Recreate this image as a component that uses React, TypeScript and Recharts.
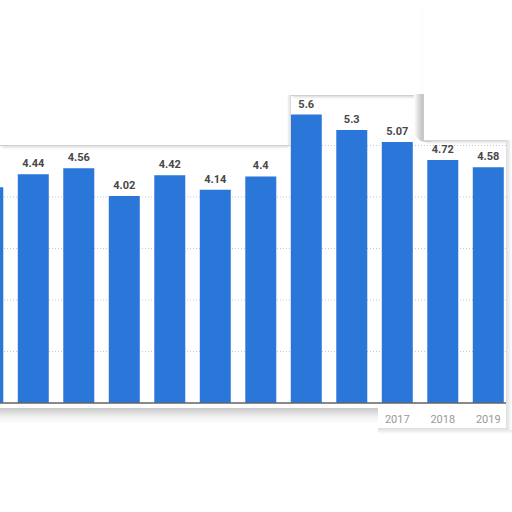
import React from 'react';
import { BarChart, Bar, XAxis, YAxis, CartesianGrid, LabelList } from 'recharts';

const years = ['2008', '2009', '2010', '2011', '2012', '2013', '2014', '2015', '2016', '2017', '2018', '2019'];
const values = [4.19, 4.44, 4.56, 4.02, 4.42, 4.14, 4.4, 5.6, 5.3, 5.07, 4.72, 4.58];
// only the last labels survived the torn edge
const visibleTicks = ['2017', '2018', '2019'];
const yTicks = [0, 1, 2, 3, 4, 5, 6];

// the first bar's value label lies outside the torn piece
const data = years.map((year, i) => ({ year, value: values[i], label: i === 0 ? '' : String(values[i]) }));

const paper = (style: React.CSSProperties) => (
  <div style={{ position: 'absolute', background: '#fff', ...style }} />
);

const edgeShadow = '0 3px 3px -2px rgba(0,0,0,0.18)';

export default function App() {
  return (
    <div
      style={{
        position: 'fixed',
        left: 0,
        top: 0,
        width: 512,
        height: 512,
        background: '#fff',
        overflow: 'hidden',
      }}
    >
      <div style={{ position: 'absolute', left: -35, top: 94 }}>
        <BarChart
          width={546}
          height={339}
          data={data}
          margin={{ top: 0, right: 0, left: 0, bottom: 0 }}
          barCategoryGap="16%"
        >
          <CartesianGrid vertical={false} stroke="#c8c8c8" strokeDasharray="1 2" />
          <XAxis
            dataKey="year"
            height={30}
            tickLine={false}
            axisLine={{ stroke: '#666', strokeWidth: 1.5 }}
            tickMargin={6}
            tick={{ fontSize: 11, fill: '#999', fontFamily: 'Roboto' }}
            tickFormatter={(v: string) => (visibleTicks.includes(v) ? v : '')}
            interval={0}
          />
          <YAxis hide domain={[0, 6]} ticks={yTicks} />
          <Bar dataKey="value" fill="#2a76d9" isAnimationActive={false}>
            <LabelList
              dataKey="label"
              position="top"
              offset={7}
              style={{ fontSize: 11, fill: '#484848', fontWeight: 700, fontFamily: 'Roboto' }}
            />
          </Bar>
        </BarChart>
      </div>

      {/* torn paper edges */}
      {paper({ left: 0, top: 0, width: 291, height: 145, borderBottom: '1px solid #cfcfcf', boxShadow: edgeShadow })}
      {paper({ left: 291, top: 0, width: 130, height: 95, borderBottom: '1px solid #d0d0d0', boxShadow: edgeShadow })}
      {paper({ left: 287, top: 95, width: 4, height: 50, background: 'linear-gradient(to right, #fff, #d8d8d8)' })}
      {paper({
        left: 414,
        top: 94,
        width: 20,
        height: 48,
        background: 'linear-gradient(to right, #fff, rgba(190,190,190,0.9) 40%, #fff)',
        borderBottomLeftRadius: 12,
      })}
      {paper({ left: 424, top: 0, width: 88, height: 140, borderBottom: '1px solid #d6d6d6', boxShadow: edgeShadow })}
      {paper({ left: 0, top: 408, width: 378, height: 104, background: 'linear-gradient(#c9c9c9, #f2f2f2 9px, #fff 16px)' })}
      {paper({ left: 378, top: 428, width: 134, height: 84, background: 'linear-gradient(#dcdcdc, #fff 6px)' })}
      {paper({ left: 506, top: 140, width: 6, height: 290, background: 'linear-gradient(to right, #ddd, #fff)' })}
    </div>
  );
}
